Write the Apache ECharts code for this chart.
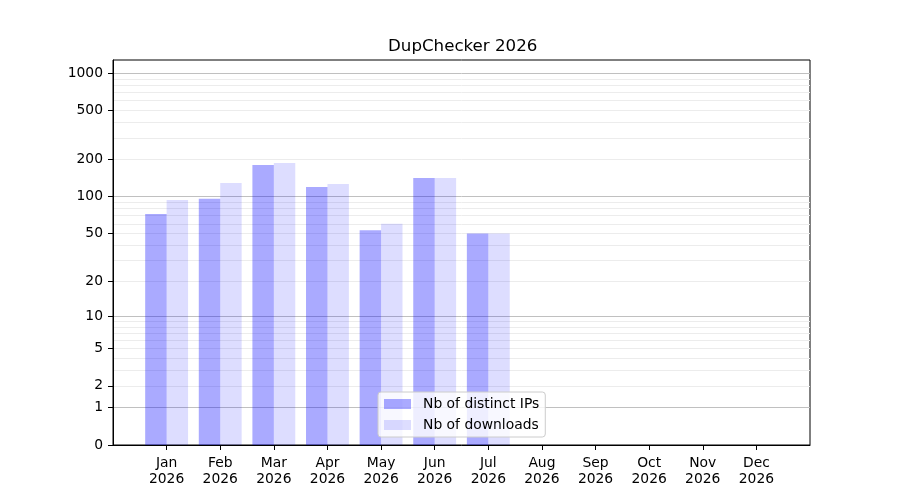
<!DOCTYPE html>
<html>
<head>
<meta charset="utf-8">
<title>DupChecker 2026</title>
<script src="https://cdn.jsdelivr.net/npm/echarts@6/dist/echarts.min.js"></script>
<style>
  html, body { margin: 0; padding: 0; background: #fff; }
  #chart { width: 900px; height: 500px; }
</style>
</head>
<body>
<div id="chart"></div>
<script>
// monthly stats
var months = ['Jan', 'Feb', 'Mar', 'Apr', 'May', 'Jun', 'Jul', 'Aug', 'Sep', 'Oct', 'Nov', 'Dec'];
var year = '2026';
var distinctIps = [72, 96, 181, 120, 53, 142, 50, 0, 0, 0, 0, 0];
var downloads = [94, 129, 188, 127, 60, 142, 50, 0, 0, 0, 0, 0];

// y ticks / grid lines (real values, axis is log10(v + 1))
var yTickValues = [0, 1, 2, 5, 10, 20, 50, 100, 200, 500, 1000];
var majorGrid = [1, 10, 100, 1000];
var minorGrid = [2, 3, 4, 5, 6, 7, 8, 9, 20, 30, 40, 50, 60, 70, 80, 90,
  200, 300, 400, 500, 600, 700, 800, 900];

var FONT = 'DejaVu Sans';

function toAxis(v) {
  return Math.log10(v + 1);
}

// empty category at each end gives the one-month margin
var categories = [''].concat(months.map(function(m) {
  return m + '\n' + year;
}), ['']);

function padded(values) {
  return [null].concat(values.map(toAxis), [null]);
}

function gridAxis(values, color) {
  return {
    type: 'value',
    min: 0,
    max: 3.107,
    axisLine: { show: false },
    axisLabel: { show: false },
    axisTick: { show: false, customValues: values.map(toAxis) },
    splitLine: {
      show: true,
      lineStyle: { color: color, width: 1 }
    }
  };
}

var chart = echarts.init(document.getElementById('chart'), null, { renderer: 'canvas' });

chart.setOption({
  animation: false,
  backgroundColor: '#fff',
  title: {
    text: 'DupChecker ' + year,
    left: 388,
    top: 38,
    padding: 0,
    textStyle: {
      fontFamily: FONT,
      fontSize: 16.67,
      fontWeight: 'normal',
      color: '#000'
    }
  },
  legend: {
    orient: 'vertical',
    left: 378,
    top: 392,
    padding: [5, 6, 5, 6],
    itemWidth: 27,
    itemHeight: 10,
    itemGap: 7,
    icon: 'rect',
    selectedMode: false,
    backgroundColor: 'rgba(255,255,255,0.8)',
    borderColor: '#cccccc',
    borderWidth: 1,
    borderRadius: 3,
    textStyle: {
      fontFamily: FONT,
      fontSize: 13.89,
      color: '#000',
      padding: [0, 0, 0, 7]
    }
  },
  grid: {
    left: 113,
    right: 90,
    top: 60,
    bottom: 55,
    show: true,
    borderColor: '#000',
    borderWidth: 1
  },
  xAxis: {
    type: 'category',
    data: categories,
    boundaryGap: false,
    axisLine: { show: true, lineStyle: { color: '#000', width: 1 } },
    axisTick: {
      show: true,
      length: 5,
      interval: function(i) {
        return i > 0 && i < categories.length - 1;
      },
      lineStyle: { color: '#000' }
    },
    axisLabel: {
      interval: 0,
      margin: 10,
      fontFamily: FONT,
      fontSize: 13.89,
      lineHeight: 16,
      color: '#000'
    },
    splitLine: { show: false }
  },
  yAxis: [
    {
      type: 'value',
      min: 0,
      max: 3.107,
      axisLine: { show: true, lineStyle: { color: '#000' } },
      axisTick: {
        show: true,
        length: 5,
        lineStyle: { color: '#000' },
        customValues: yTickValues.map(toAxis)
      },
      axisLabel: {
        margin: 10,
        fontFamily: FONT,
        fontSize: 13.89,
        color: '#000',
        customValues: yTickValues.map(toAxis),
        formatter: function(val) {
          return String(Math.round(Math.pow(10, val) - 1));
        }
      },
      splitLine: { show: false }
    },
    gridAxis(minorGrid, '#ececec'),
    gridAxis(majorGrid, '#c0c0c0')
  ],
  series: [
    {
      name: 'Nb of distinct IPs',
      type: 'bar',
      data: padded(distinctIps),
      barWidth: '40%',
      barGap: '0%',
      itemStyle: { color: 'rgba(0,0,255,0.333)' }
    },
    {
      name: 'Nb of downloads',
      type: 'bar',
      data: padded(downloads),
      barWidth: '40%',
      barGap: '0%',
      itemStyle: { color: 'rgba(0,0,255,0.133)' }
    }
  ]
});
</script>
</body>
</html>
